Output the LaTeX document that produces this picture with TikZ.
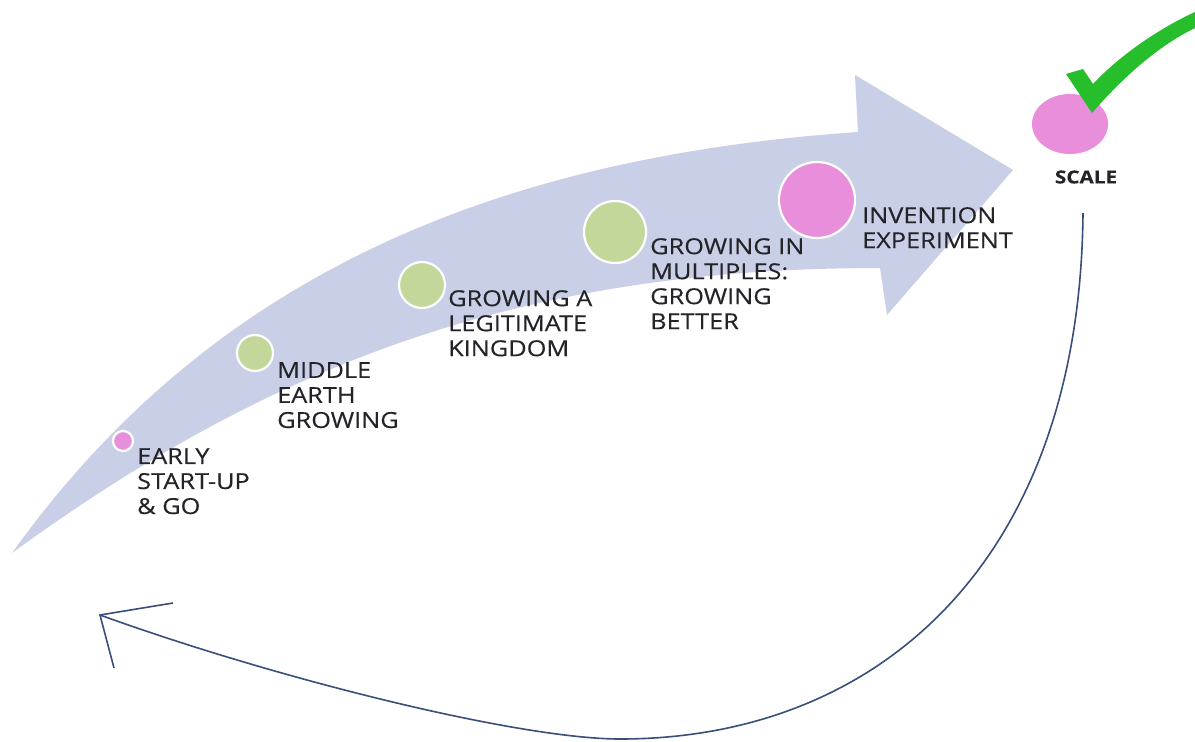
\documentclass[tikz,border=0pt]{standalone}
\usepackage{fontspec}
\usetikzlibrary{shapes.geometric}
\setmainfont{Open Sans}[FakeStretch=1.15,FakeBold=0.25]
\definecolor{band}{RGB}{201,207,230}
\definecolor{leaf}{RGB}{196,215,155}
\definecolor{rose}{RGB}{232,142,218}
\definecolor{navy}{RGB}{58,78,122}
\definecolor{tick}{RGB}{38,190,42}
\definecolor{ink}{RGB}{35,35,40}
\begin{document}
\begin{tikzpicture}[x=1pt,y=-1pt,
  dot/.style={circle,draw=white,line width=2.2pt,inner sep=0pt},
  lab/.style={anchor=north west,inner sep=0pt,align=left,text=ink,
    font=\fontsize{22}{25}\selectfont},
  ret/.style={draw=navy,line width=1.6pt}]
\useasboundingbox[fill=white] (0,0) rectangle (1195,742);
% big curved arrow
\fill[band] (12,553) .. controls (190,305) and (450,160) .. (858,132)
  -- (855,75) -- (1013,170) -- (887,315) -- (880,268)
  .. controls (520,268) and (270,365) .. (12,553) -- cycle;
% stage dots
\node[dot,fill=rose,minimum size=20pt] (d1) at (123,441) {};
\node[dot,fill=leaf,minimum size=36pt] (d2) at (255,353) {};
\node[dot,fill=leaf,minimum size=46pt] (d3) at (422,285) {};
\node[dot,fill=leaf,minimum size=62pt] (d4) at (615,232) {};
\node[dot,fill=rose,minimum size=76pt] (d5) at (817,200) {};
\node[ellipse,fill=rose,minimum width=76pt,minimum height=60pt,inner sep=0pt] (d6) at (1070,124) {};
% labels
\node[lab] (t1) at (137,448) {EARLY\\START-UP\\\& GO};
\node[lab] (t2) at (277,362) {MIDDLE\\EARTH\\GROWING};
\node[lab] (t3) at (448,290) {GROWING A\\LEGITIMATE\\KINGDOM};
\node[lab] (t4) at (650,238) {GROWING IN\\MULTIPLES:\\GROWING\\BETTER};
\node[lab] (t5) at (862,207) {INVENTION\\EXPERIMENT};
\node[inner sep=0pt,text=ink,font=\fontsize{18}{20}\selectfont\bfseries] (t6) at (1086,177) {SCALE};
% check mark
\fill[tick] (1066,74) -- (1083,69) -- (1093,84) .. controls (1120,55) and (1160,28) .. (1195,12)
  -- (1195,28) .. controls (1160,45) and (1125,75) .. (1092,113) -- cycle;
% return arrow
\coordinate (rs) at (1083,213);
\coordinate (rl) at (620,739);
\coordinate (rt) at (100,615);
\coordinate (ba) at (173,603);
\coordinate (bb) at (114,668);
\draw[ret] (rs) .. controls (1080,560) and (880,739) .. (rl)
  .. controls (520,739) and (280,680) .. (rt);
\draw[ret] (ba) -- (rt) -- (bb);
\end{tikzpicture}
\end{document}
